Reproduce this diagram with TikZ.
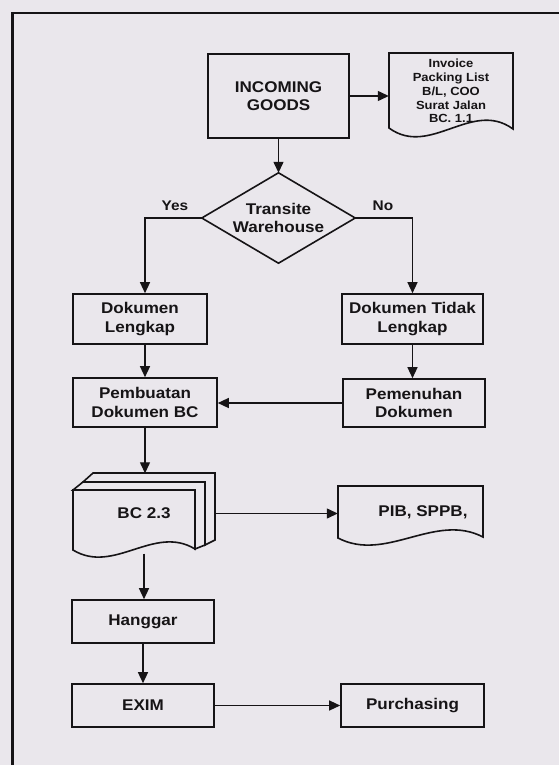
\documentclass[tikz,border=0pt]{standalone}
\usepackage{fontspec}
\setmainfont{Liberation Sans}[FakeStretch=1.1]
\usetikzlibrary{arrows.meta}
\definecolor{paper}{RGB}{234,231,236}
\definecolor{ink}{RGB}{22,20,22}
\begin{document}
\begin{tikzpicture}[x=1pt,y=-1pt,
  box/.style={draw=ink,line width=1.6pt,text=ink,font=\bfseries\fontsize{15.5}{18.5}\selectfont,align=center,inner sep=0pt},
  ghost/.style={draw=none,text=ink,font=\bfseries\fontsize{15.5}{18.5}\selectfont,align=center,inner sep=0pt},
  small/.style={draw=none,text=ink,font=\bfseries\fontsize{11.8}{13.8}\selectfont,align=center,inner sep=0pt},
  lbl/.style={text=ink,font=\bfseries\fontsize{14}{16}\selectfont,inner sep=0pt},
  outline/.style={draw=ink,line width=1.6pt,line join=miter},
  arr/.style={draw=ink,line width=1.3pt,-{Triangle[length=11pt,width=10pt]}}]
\useasboundingbox (0,0) rectangle (559,765);
\fill[paper] (0,0) rectangle (559,765);
% outer frame
\draw[ink,line width=2.8pt] (12.5,765) -- (12.5,13) -- (559,13);

% nodes
\node[box,minimum width=141pt,minimum height=84pt] (inc) at (278.5,96) {INCOMING\\GOODS};
\node[small,minimum width=124pt,minimum height=76pt] (inv) at (451,91) {Invoice\\Packing List\\B/L, COO\\Surat Jalan\\BC. 1.1};
\draw[outline] (389,53) -- (513,53) -- (513,129) .. controls (472,99) and (430,158) .. (389,128) -- cycle;

\node[ghost,minimum width=153pt,minimum height=90pt] (dia) at (278.5,218) {Transite\\Warehouse};
\draw[outline] (dia.north) -- (dia.east) -- (dia.south) -- (dia.west) -- cycle;
\node[lbl] (yes) at (175,206) {Yes};
\node[lbl] (no) at (383,206) {No};

\node[box,minimum width=134pt,minimum height=50pt] (dl) at (140,319) {Dokumen\\Lengkap};
\node[box,minimum width=141pt,minimum height=50pt] (dtl) at (412.5,319) {Dokumen Tidak\\Lengkap};
\node[box,minimum width=144pt,minimum height=49pt] (pb) at (145,402.5) {Pembuatan\\Dokumen BC};
\node[box,minimum width=142pt,minimum height=48pt] (pem) at (414,403) {Pemenuhan\\Dokumen};

% BC 2.3 multi-document stack
\draw[outline,fill=paper] (93,473) -- (215,473) -- (215,540) -- (205,545) -- (205,482) -- (83,482) -- cycle;
\draw[outline,fill=paper] (83,482) -- (205,482) -- (205,545) -- (195,549) -- (195,490) -- (73,490) -- cycle;
\draw[outline,fill=paper] (73,490) -- (195,490) -- (195,549) .. controls (154,524) and (114,575) .. (73,550) -- cycle;
\node[ghost,minimum width=142pt,minimum height=80pt] (bc) at (144,513.5) {BC 2.3};

\node[ghost,minimum width=145pt,minimum height=52pt] (pib) at (410.5,512) {\hspace*{25pt}PIB, SPPB,};
\draw[outline] (338,486) -- (483,486) -- (483,537) .. controls (435,512) and (386,563) .. (338,538) -- cycle;

\node[box,minimum width=142pt,minimum height=43pt] (hang) at (143,621.5) {Hanggar};
\node[box,minimum width=142pt,minimum height=43pt] (exim) at (143,705.5) {EXIM};
\node[box,minimum width=143pt,minimum height=43pt] (pur) at (412.5,705.5) {Purchasing};

% connectors
\draw[arr] (inc.east) -- (inc.east -| inv.west);
\draw[arr] (inc.south) -- (dia.north);
\draw[arr] (dia.west) -| (pb.north |- dl.north);
\draw[arr] (dia.east) -| (dtl.north);
\draw[arr] (pb.north |- dl.south) -- (pb.north);
\draw[arr] (dtl.south) -- (dtl.south |- pem.north);
\draw[arr] (pem.west) -- (pem.west -| pb.east);
\draw[arr] (pb.south) -- (pb.south |- bc.north);
\draw[arr] (bc.east) -- (bc.east -| pib.west);
\draw[arr] (bc.south) -- (bc.south |- hang.north);
\draw[arr] (hang.south) -- (exim.north);
\draw[arr] (exim.east) -- (pur.west);
\end{tikzpicture}
\end{document}
